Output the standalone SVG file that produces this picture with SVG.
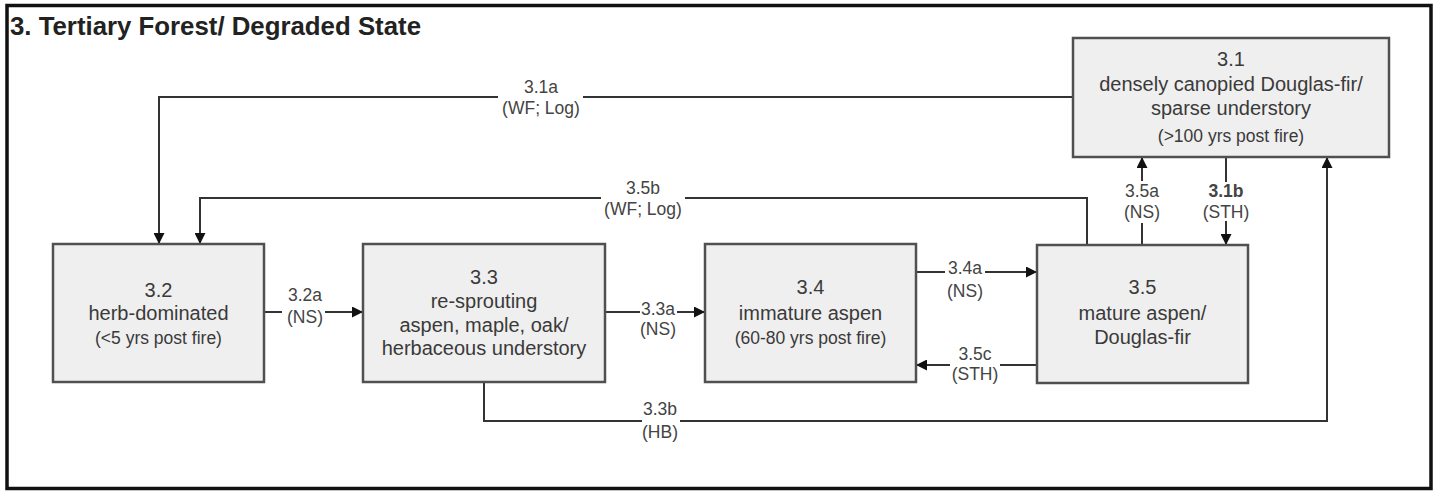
<svg xmlns="http://www.w3.org/2000/svg" width="1439" height="495" viewBox="0 0 1439 495">
<style>
.frame{fill:#fff;stroke:#111;stroke-width:3.5}
.title{font-family:"Liberation Sans",Arial,sans-serif;font-size:25.8px;font-weight:bold;fill:#222}
.box{fill:#efefef;stroke:#505050;stroke-width:2.5}
.t{font-family:"Liberation Sans",Arial,sans-serif;font-size:20px;fill:#3a3a3a;text-anchor:middle}
.s{font-family:"Liberation Sans",Arial,sans-serif;font-size:17.5px;fill:#3a3a3a;text-anchor:middle}
.lbl{font-family:"Liberation Sans",Arial,sans-serif;font-size:17.5px;fill:#444;text-anchor:middle}
.b{font-weight:bold}
.c{fill:none;stroke:#333;stroke-width:2;marker-end:url(#ah)}
.gap{fill:#fff;stroke:none}
</style>
<defs>
<marker id="ah" markerUnits="userSpaceOnUse" markerWidth="11" markerHeight="11" refX="11" refY="5.5" orient="auto">
<path d="M0,0 L11,5.5 L0,11 z" fill="#111"/>
</marker>
</defs>
<rect class="frame" x="7" y="5.5" width="1424" height="483"/>
<text class="title" x="10" y="35">3. Tertiary Forest/ Degraded State</text>

<g id="connectors">
<path class="c" d="M1073,97 H159 V244"/>
<path class="c" d="M1087,246 V198 H200 V244"/>
<path class="c" d="M1142,246 V157"/>
<path class="c" d="M1226,157 V245"/>
<path class="c" d="M484,382 V421 H1327 V157"/>
<path class="c" d="M264,312 H363"/>
<path class="c" d="M605,312 H705"/>
<path class="c" d="M916,272 H1037"/>
<path class="c" d="M1037,365 H916"/>
<rect class="gap" x="498" y="80" width="85" height="38"/>
<rect class="gap" x="601" y="180" width="84" height="40"/>
<rect class="gap" x="1124" y="181" width="36" height="42"/>
<rect class="gap" x="1200" y="182" width="52" height="39"/>
<rect class="gap" x="642" y="400" width="38" height="42"/>
<rect class="gap" x="282" y="287" width="43" height="41"/>
<rect class="gap" x="640" y="300" width="37" height="40"/>
<rect class="gap" x="945" y="260" width="40" height="40"/>
<rect class="gap" x="950" y="346" width="50" height="39"/>
<text class="lbl" x="541" y="93">3.1a</text>
<text class="lbl" x="541" y="114">(WF; Log)</text>
<text class="lbl" x="643" y="194">3.5b</text>
<text class="lbl" x="643" y="215">(WF; Log)</text>
<text class="lbl" x="1142" y="197">3.5a</text>
<text class="lbl" x="1142" y="218">(NS)</text>
<text class="lbl b" x="1226" y="197">3.1b</text>
<text class="lbl" x="1226" y="218">(STH)</text>
<text class="lbl" x="660" y="415">3.3b</text>
<text class="lbl" x="660" y="438">(HB)</text>
<text class="lbl" x="305" y="301">3.2a</text>
<text class="lbl" x="305" y="323">(NS)</text>
<text class="lbl" x="658" y="315">3.3a</text>
<text class="lbl" x="658" y="335">(NS)</text>
<text class="lbl" x="965" y="274">3.4a</text>
<text class="lbl" x="965" y="297">(NS)</text>
<text class="lbl" x="975" y="360">3.5c</text>
<text class="lbl" x="975" y="380">(STH)</text>
</g>

<g id="n31">
<rect class="box" x="1073" y="38" width="316" height="119"/>
<text class="t" x="1231" y="66">3.1</text>
<text class="t" x="1231" y="91">densely canopied Douglas-fir/</text>
<text class="t" x="1231" y="115">sparse understory</text>
<text class="s" x="1231" y="142">(&gt;100 yrs post fire)</text>
</g>
<g id="n32">
<rect class="box" x="53" y="244" width="211" height="138"/>
<text class="t" x="158.5" y="297">3.2</text>
<text class="t" x="158.5" y="320">herb-dominated</text>
<text class="s" x="158.5" y="344">(&lt;5 yrs post fire)</text>
</g>
<g id="n33">
<rect class="box" x="363" y="244" width="242" height="138"/>
<text class="t" x="484" y="284">3.3</text>
<text class="t" x="484" y="308">re-sprouting</text>
<text class="t" x="484" y="332">aspen, maple, oak/</text>
<text class="t" x="484" y="355">herbaceous understory</text>
</g>
<g id="n34">
<rect class="box" x="705" y="244" width="211" height="138"/>
<text class="t" x="810.5" y="294">3.4</text>
<text class="t" x="810.5" y="320">immature aspen</text>
<text class="s" x="810.5" y="344">(60-80 yrs post fire)</text>
</g>
<g id="n35">
<rect class="box" x="1037" y="245" width="211" height="138"/>
<text class="t" x="1142.5" y="294">3.5</text>
<text class="t" x="1142.5" y="320">mature aspen/</text>
<text class="t" x="1142.5" y="344">Douglas-fir</text>
</g>
</svg>
